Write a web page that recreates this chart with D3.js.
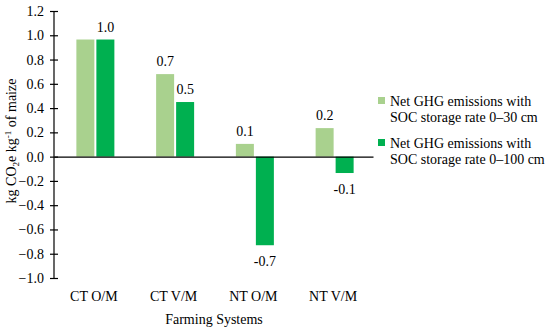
<!DOCTYPE html>
<html><head><meta charset="utf-8">
<script src="https://cdn.jsdelivr.net/npm/d3@7"></script>
<style>
body{margin:0;background:#fff;}
text{font-family:"Liberation Serif","DejaVu Serif",serif;fill:#000;}
</style></head>
<body><svg id="c" width="550" height="333"></svg>
<script>
const categories = ["CT O/M","CT V/M","NT O/M","NT V/M"];
const seriesLines = [["Net GHG emissions with","SOC storage rate 0–30 cm"],["Net GHG emissions with","SOC storage rate 0–100 cm"]];
const values30 = [0.965, 0.68, 0.105, 0.235];
const values100 = [0.965, 0.45, -0.73, -0.135];
const labels30 = [null, "0.7", "0.1", "0.2"];
const labels100 = ["1.0", "0.5", "-0.7", "-0.1"];
const yTicks = [1.2,1.0,0.8,0.6,0.4,0.2,0.0,-0.2,-0.4,-0.6,-0.8,-1.0];
const colors = ["#a9d18e","#00b050"];

const svg = d3.select("#c");
const fs = 14;
const serif = '"Liberation Serif","DejaVu Serif",serif';
const y = d3.scaleLinear().domain([-1.0,1.2]).range([278,11]);
const x = d3.scaleBand().domain(categories).range([54,373]);
const groupW = 38;
const x1 = d3.scaleBand().domain([0,1]).range([0,groupW]).paddingInner(0.1);

const data = categories.map((c,i)=>({c, vals:[values30[i],values100[i]], labs:[labels30[i],labels100[i]]}));

const g = svg.append("g");
data.forEach(d=>{
  const gx = x(d.c) + x.bandwidth()/2 - groupW/2 + 1.5;
  d.vals.forEach((v,k)=>{
    g.append("rect")
      .attr("x", gx + x1(k))
      .attr("width", x1.bandwidth())
      .attr("y", y(Math.max(0,v)))
      .attr("height", Math.abs(y(v)-y(0)))
      .attr("fill", colors[k]);
    const lab = d.labs[k];
    if(lab){
      g.append("text")
        .attr("x", gx + x1(k) + x1.bandwidth()/2)
        .attr("y", v>=0 ? y(v)-8 : y(v)+21)
        .attr("text-anchor","middle")
        .attr("font-size", fs)
        .text(lab);
    }
  });
});

// y axis
const yAxis = d3.axisLeft(y).tickValues(yTicks).tickFormat(d3.format(".1f")).tickSize(4);
const ya = svg.append("g").attr("transform","translate(54,0)").call(yAxis);
ya.attr("font-family", serif).attr("font-size", fs);
ya.select(".domain").attr("stroke","#000").attr("stroke-width",1.2).attr("d","M0,11V278");
ya.selectAll(".tick line").attr("x1",-4).attr("x2",4).attr("stroke","#000").attr("stroke-width",1.2);
ya.selectAll(".tick text").attr("font-size",fs).attr("font-family",serif).attr("x",-10);

// x axis at zero
const xAxis = d3.axisBottom(x).tickSize(0).tickFormat("");
const xa = svg.append("g").attr("transform",`translate(0,${y(0)})`).call(xAxis);
xa.select(".domain").attr("stroke","#000").attr("stroke-width",1.2);

// category labels at bottom
svg.append("g").selectAll("text").data(categories).join("text")
  .attr("x", d=>x(d)+x.bandwidth()/2)
  .attr("y", 301)
  .attr("text-anchor","middle")
  .attr("font-size", fs)
  .text(d=>d);

// axis titles
svg.append("text").attr("x",214).attr("y",324).attr("text-anchor","middle").attr("font-size",fs).text("Farming Systems");
const yt = svg.append("text").attr("transform","translate(16,141) rotate(-90)").attr("text-anchor","middle").attr("font-size",fs);
yt.append("tspan").text("kg CO");
yt.append("tspan").attr("font-size",fs*0.65).attr("dy",3).text("2");
yt.append("tspan").attr("dy",-3).text("e kg");
yt.append("tspan").attr("font-size",fs*0.65).attr("dy",-5).text("-1");
yt.append("tspan").attr("dy",5).text(" of maize");

// legend
const lg = svg.append("g");
seriesLines.forEach((lines,k)=>{
  const top = 97 + k*42;
  lg.append("rect").attr("x",378).attr("y",top).attr("width",7).attr("height",7).attr("fill",colors[k]);
  lines.forEach((t,j)=>{
    lg.append("text").attr("x",390).attr("y",top+8.5+j*16.5).attr("font-size",fs).text(t);
  });
});
</script></body></html>
